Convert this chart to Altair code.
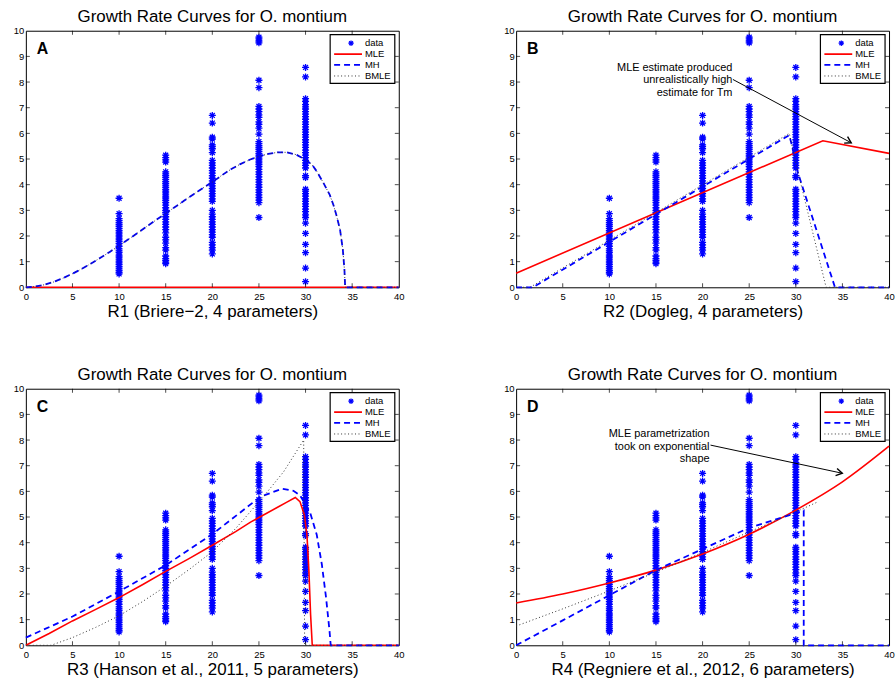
import altair as alt
import pandas as pd

FONT = "Liberation Sans"
TITLE = "Growth Rate Curves for O. montium"
SERIES = ["data", "MLE", "MH", "BMLE"]
XTICKS = [0, 5, 10, 15, 20, 25, 30, 35, 40]
YTICKS = [0, 1, 2, 3, 4, 5, 6, 7, 8, 9, 10]

# observed development rates per temperature
TEMPS = [10, 15, 20, 25, 30]
RATE_10 = [3.47, 2.87, 2.68, 2.6, 2.52, 2.45, 2.38, 2.3, 2.22, 2.15, 2.08, 2.0, 1.92, 1.85,
           1.78, 1.7, 1.6, 1.5, 1.42, 1.35, 1.25, 1.18, 1.1, 1.02, 0.95, 0.88, 0.8, 0.72,
           0.65, 0.58, 0.52]
RATE_15 = [5.15, 5.05, 4.97, 4.88, 4.5, 4.42, 4.35, 4.28, 4.2, 4.12, 4.05, 3.98, 3.9, 3.82,
           3.75, 3.68, 3.6, 3.52, 3.45, 3.38, 3.3, 3.2, 3.1, 3.0, 2.92, 2.85, 2.75, 2.65,
           2.55, 2.45, 2.35, 2.25, 2.12, 1.95, 1.85, 1.72, 1.55, 1.45, 1.22, 1.12, 1.05,
           0.98, 0.92]
RATE_20 = [6.7, 6.4, 5.85, 5.78, 5.55, 5.48, 5.4, 5.25, 4.95, 4.85, 4.75, 4.65, 4.55, 4.45,
           4.35, 4.25, 4.15, 4.05, 3.95, 3.85, 3.75, 3.65, 3.55, 3.45, 3.35, 3.0, 2.85,
           2.75, 2.65, 2.55, 2.45, 2.35, 2.25, 2.15, 2.05, 1.95, 1.75, 1.65, 1.55, 1.45, 1.3]
RATE_25 = [9.75, 9.68, 9.6, 9.53, 8.07, 7.78, 7.05, 6.95, 6.85, 6.72, 6.62, 6.45, 6.35, 6.2,
           5.97, 5.68, 5.6, 5.52, 5.45, 5.38, 5.3, 5.22, 5.15, 5.08, 5.0, 4.92, 4.85, 4.78,
           4.7, 4.6, 4.5, 4.4, 4.3, 4.2, 4.1, 4.0, 3.9, 3.8, 3.7, 3.6, 3.5, 3.4, 3.3, 2.72]
RATE_30 = [8.57, 8.2, 7.35, 7.25, 7.12, 7.03, 6.95, 6.85, 6.75, 6.65, 6.55, 6.45, 6.35, 6.25,
           6.15, 6.05, 5.95, 5.85, 5.75, 5.65, 5.55, 5.45, 5.35, 5.25, 5.15, 5.05, 4.95,
           4.85, 4.75, 4.65, 4.35, 4.28, 3.82, 3.75, 3.65, 3.55, 3.45, 3.35, 3.25, 3.15,
           3.05, 2.95, 2.82, 2.72, 2.5, 2.1, 1.67, 1.35, 0.75, 0.22]
RATES = [RATE_10, RATE_15, RATE_20, RATE_25, RATE_30]

# Panel A: Briere-2
A_MLE_X = [0, 40]
A_MLE_Y = [0, 0]
A_MH_X = [0, 1, 2, 3, 4, 5, 6, 7, 8, 9, 10, 11, 12, 13, 14, 15, 16, 17, 18, 19, 20, 21, 22,
          23, 24, 25, 26, 27, 28, 29, 30, 30.7, 31.2, 31.9, 32.6, 33, 33.35, 33.7, 34, 34.17,
          34.25, 40]
A_MH_Y = [0, 0.03, 0.1, 0.21, 0.36, 0.53, 0.72, 0.93, 1.15, 1.38, 1.62, 1.87, 2.12, 2.38,
          2.63, 2.88, 3.13, 3.38, 3.63, 3.87, 4.1, 4.36, 4.6, 4.8, 4.97, 5.1, 5.2, 5.26, 5.26,
          5.17, 4.97, 4.78, 4.52, 4.08, 3.6, 3.2, 2.76, 2.25, 1.47, 0.7, 0, 0]
A_BMLE_X = A_MH_X
A_BMLE_Y = A_MH_Y

# Panel B: Dogleg
B_MLE_X = [0, 32.9, 40]
B_MLE_Y = [0.55, 5.71, 5.22]
B_MH_X = [0, 1.8, 29.3, 29.6, 30.2, 34.2, 40]
B_MH_Y = [0, 0, 5.93, 5.5, 4.5, 0, 0]
B_BMLE_X = [0, 1.5, 29.3, 30.0, 33.25, 40]
B_BMLE_Y = [0, 0, 6.0, 4.85, 0, 0]

# Panel C: Hanson et al., 2011
C_MLE_X = [0, 2.5, 5, 7.5, 10, 12.5, 15, 17.5, 20, 22.5, 24.1, 25, 27, 28, 28.9, 29.4, 29.87,
           30.15, 30.36, 30.54, 30.72, 40]
C_MLE_Y = [0, 0.46, 0.95, 1.4, 1.86, 2.36, 2.88, 3.38, 3.9, 4.43, 4.8, 4.98, 5.38, 5.58,
           5.76, 5.6, 5.09, 4.31, 2.9, 1.21, 0, 0]
C_MH_X = [0, 5, 10, 15, 20, 25.2, 27.5, 28.7, 29.4, 30.5, 31.2, 31.75, 32.2, 32.57, 32.7, 40]
C_MH_Y = [0.3, 1.12, 2.1, 3.12, 4.33, 5.8, 6.1, 6.02, 5.85, 5.16, 4.31, 3.15, 1.86, 0.57, 0, 0]
C_BMLE_X = [0, 2.7, 5, 7.5, 10, 12.5, 15, 17.5, 20, 22.5, 25.5, 27.66, 29.8, 29.9, 40]
C_BMLE_Y = [0, 0, 0.3, 0.7, 1.15, 1.7, 2.3, 2.95, 3.65, 4.55, 5.8, 6.77, 8.0, 0, 0]

# Panel D: Regniere et al., 2012
D_MLE_X = [0, 5, 10, 15, 20, 25, 30, 35, 40]
D_MLE_Y = [1.65, 2.0, 2.43, 2.93, 3.56, 4.33, 5.27, 6.37, 7.76]
D_MH_X = [0, 5, 10, 15, 20, 25, 30, 30.85, 30.85, 40]
D_MH_Y = [0, 0.97, 1.95, 2.93, 3.75, 4.58, 5.15, 5.25, 0, 0]
D_BMLE_X = [0, 5, 10, 15, 20, 25, 30, 32.3]
D_BMLE_Y = [0.75, 1.42, 2.12, 2.85, 3.62, 4.42, 5.2, 5.58]

ANNOT_B = ["MLE estimate produced", "unrealistically high", "estimate for Tm"]
ANNOT_D = ["MLE parametrization", "took on exponential", "shape"]

XLABELS = ["R1 (Briere\u22122, 4 parameters)", "R2 (Dogleg, 4 parameters)",
           "R3 (Hanson et al., 2011, 5 parameters)", "R4 (Regniere et al., 2012, 6 parameters)"]
LETTERS = ["A", "B", "C", "D"]

W, H = 375, 258
ASTERISK = "M-1,0L1,0M0,-1L0,1M-0.7,-0.7L0.7,0.7M-0.7,0.7L0.7,-0.7"
ARROWHEAD = "M-1,-0.6L0,0L-1,0.6"
BLUE, RED, DOT = "#0000ff", "#ff0000", "#333333"

pts_df = pd.DataFrame(
    [{"x": t, "y": v} for t, vals in zip(TEMPS, RATES) for v in vals]
)


def curve_df(xs, ys):
    return pd.DataFrame({"x": xs, "y": ys, "i": list(range(len(xs)))})


def one(label=""):
    return pd.DataFrame({"label": [label]})


def make_panel(idx, mle, mh, bmle, annot=None, mle_interp="linear"):
    X = alt.X("x:Q", scale=alt.Scale(domain=[0, 40], nice=False, zero=False),
              axis=alt.Axis(values=XTICKS, title=XLABELS[idx], labelFlush=False,
                            labelOverlap=False, ticks=False, domain=False, grid=False,
                            labelFontSize=9.5, labelPadding=4, labelFont=FONT,
                            labelColor="#000", titleFont=FONT, titleFontSize=17,
                            titleFontWeight="normal", titleColor="#000", titlePadding=3))
    Y = alt.Y("y:Q", scale=alt.Scale(domain=[0, 10], nice=False, zero=False),
              axis=alt.Axis(values=YTICKS, title=None, labelFlush=False, labelOverlap=False,
                            ticks=False, domain=False, grid=False, labelFontSize=9.5,
                            labelPadding=2, labelFont=FONT, labelColor="#000"))
    layers = []
    layers.append(alt.Chart(pts_df).mark_point(shape=ASTERISK, size=50, filled=False,
                                               strokeWidth=1.3, color=BLUE, opacity=1)
                  .encode(x=X, y=Y))
    layers.append(alt.Chart(curve_df(*mle)).mark_line(color=RED, strokeWidth=1.6,
                                                      interpolate=mle_interp)
                  .encode(x=X, y=Y, order="i:Q"))
    layers.append(alt.Chart(curve_df(*mh)).mark_line(color=BLUE, strokeWidth=1.8,
                                                     strokeDash=[6, 4])
                  .encode(x=X, y=Y, order="i:Q"))
    layers.append(alt.Chart(curve_df(*bmle)).mark_line(color=DOT, strokeWidth=1,
                                                       strokeDash=[1, 2.5])
                  .encode(x=X, y=Y, order="i:Q"))
    # inward ticks (MATLAB style)
    xt = pd.DataFrame({"x": XTICKS[1:-1]})
    yt = pd.DataFrame({"y": YTICKS[1:-1]})
    for yv in [H - 2, 2]:
        layers.append(alt.Chart(xt).mark_tick(color="black", size=4, thickness=1)
                      .encode(x=X, y=alt.value(yv)))
    for xv in [2, W - 2]:
        layers.append(alt.Chart(yt).mark_tick(color="black", size=4, thickness=1)
                      .encode(y=Y, x=alt.value(xv)))
    # legend
    layers.append(alt.Chart(one()).mark_rect(fill="white", stroke="black", strokeWidth=1.2)
                  .encode(x=alt.value(306), x2=alt.value(371), y=alt.value(4),
                          y2=alt.value(53)))
    rows = [12.5, 23.5, 34.3, 45.5]
    layers.append(alt.Chart(one()).mark_point(shape=ASTERISK, size=30, filled=False,
                                              strokeWidth=1.2, color=BLUE, opacity=1)
                  .encode(x=alt.value(327), y=alt.value(rows[0])))
    styles = [(RED, [1, 0], 1.6), (BLUE, [6, 4], 1.8), (DOT, [1, 2.5], 1)]
    for r, (c, d, sw) in zip(rows[1:], styles):
        layers.append(alt.Chart(one()).mark_rule(color=c, strokeDash=d, strokeWidth=sw)
                      .encode(x=alt.value(310), x2=alt.value(338), y=alt.value(r)))
    for r, name in zip(rows, SERIES):
        layers.append(alt.Chart(one(name)).mark_text(align="left", baseline="middle",
                                                     fontSize=9.5, font=FONT, color="#000")
                      .encode(x=alt.value(341), y=alt.value(r), text="label:N"))
    # panel letter
    layers.append(alt.Chart(one(LETTERS[idx])).mark_text(align="left", baseline="alphabetic",
                                                         fontSize=16, fontWeight="bold",
                                                         font=FONT, color="#000")
                  .encode(x=alt.value(11), y=alt.value(23.5), text="label:N"))
    if annot is not None:
        lines, tx, ty, x1, y1, x2, y2, ang = annot
        layers.append(alt.Chart(one()).mark_text(text=lines, align="right",
                                                 baseline="alphabetic", fontSize=11,
                                                 lineHeight=12.9, font=FONT, color="#000")
                      .encode(x=alt.value(tx), y=alt.value(ty)))
        layers.append(alt.Chart(one()).mark_rule(color="black", strokeWidth=1)
                      .encode(x=alt.value(x1), y=alt.value(y1), x2=alt.value(x2),
                              y2=alt.value(y2)))
        layers.append(alt.Chart(one()).mark_point(shape=ARROWHEAD, angle=ang, size=150,
                                                  filled=False, color="black",
                                                  strokeWidth=1.4, opacity=1)
                      .encode(x=alt.value(x2), y=alt.value(y2)))
    return alt.layer(*layers).properties(
        width=W, height=H,
        title=alt.TitleParams(TITLE, fontSize=17, fontWeight="normal", font=FONT,
                              color="#000", offset=0))


pA = make_panel(0, (A_MLE_X, A_MLE_Y), (A_MH_X, A_MH_Y), (A_BMLE_X, A_BMLE_Y))
pB = make_panel(1, (B_MLE_X, B_MLE_Y), (B_MH_X, B_MH_Y), (B_BMLE_X, B_BMLE_Y),
                annot=(ANNOT_B, 217.5, 40, 218, 49, 337, 112.7, 28))
pC = make_panel(2, (C_MLE_X, C_MLE_Y), (C_MH_X, C_MH_Y), (C_BMLE_X, C_BMLE_Y))
pD = make_panel(3, (D_MLE_X, D_MLE_Y), (D_MH_X, D_MH_Y), (D_BMLE_X, D_BMLE_Y),
                annot=(ANNOT_D, 194.5, 48.3, 195.5, 56.7, 328, 85, 12),
                mle_interp="monotone")

chart = alt.concat(
    pA, pB, pC, pD, columns=2,
    spacing=alt.RowColnumber(row=102, column=118), bounds="flush",
).configure_view(stroke="black", strokeWidth=1).properties(
    padding={"left": 12, "top": 5, "right": 0, "bottom": 0}, background="white"
)

chart.save("out.html", embed_options={"renderer": "svg", "actions": False})
